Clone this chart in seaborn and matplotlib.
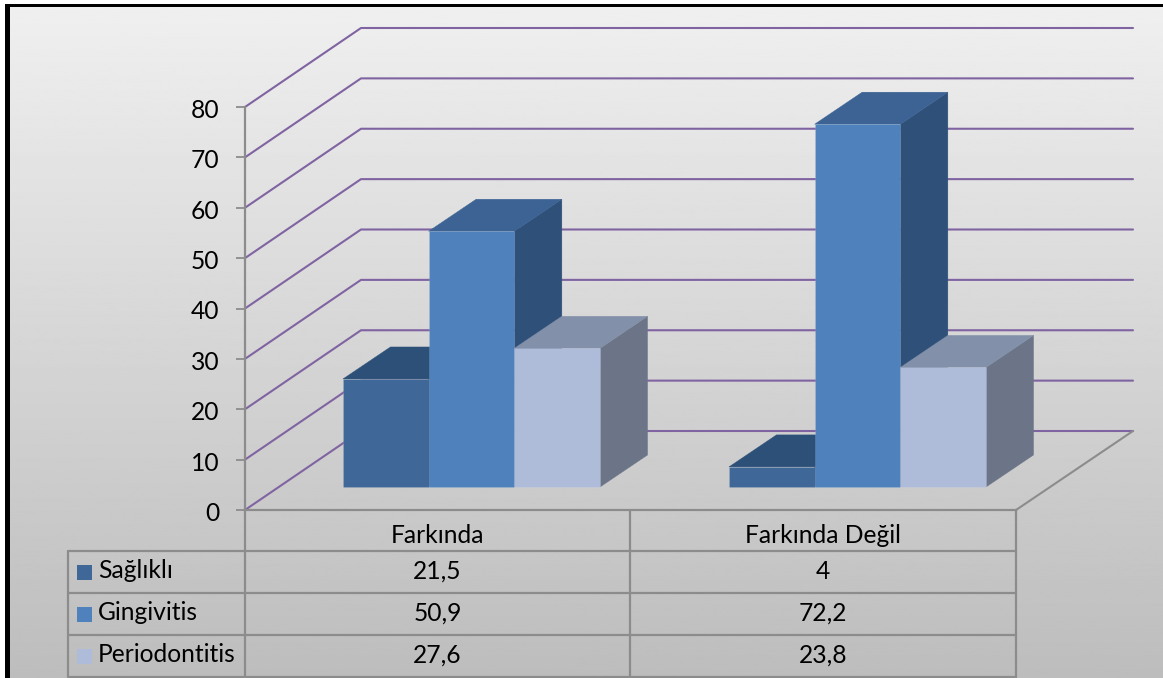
import numpy as np
import pandas as pd
import seaborn as sns
import matplotlib
matplotlib.use('Agg')
import matplotlib.pyplot as plt
from matplotlib.patches import Rectangle
from matplotlib.transforms import ScaledTranslation

categories = ['Farkında', 'Farkında Değil']
groups = ['Sağlıklı', 'Gingivitis', 'Periodontitis']
saglikli = [21.5, 4]
gingivitis = [50.9, 72.2]
periodontitis = [27.6, 23.8]
table_labels = [['21,5', '4'], ['50,9', '72,2'], ['27,6', '23,8']]
y_ticks = [0, 10, 20, 30, 40, 50, 60, 70, 80]

front_colors = ['#3f6797', '#4f81bd', '#aebcd9']
top_colors = ['#2d5078', '#3c6394', '#8290a9']
side_colors = ['#2d5078', '#2f5079', '#6b7587']
purple = '#8064a2'
grey = '#8c8c8c'

W, H = 1163, 678
FONT = 'Lato'
FS = 17.7

sns.set_theme(style='white')
plt.rcParams['font.family'] = [FONT, 'DejaVu Sans']


def px_axes(left, top, right, bottom, **kw):
    return fig.add_axes([left / W, 1 - bottom / H, (right - left) / W, (bottom - top) / H], **kw)


fig = plt.figure(figsize=(W / 100, H / 100), dpi=100, facecolor='white')

"Gradient background"
ax_bg = px_axes(0, 0, W, H, zorder=0)
grad = np.linspace(0.94, 0.74, 256).reshape(-1, 1)
ax_bg.imshow(grad, cmap='gray', vmin=0, vmax=1, aspect='auto', extent=(0, W, H, 0))
ax_bg.axis('off')

"Walls, gridlines and value axis"
ax_wall = px_axes(245, 107, 1016, 510, zorder=1)
ax_wall.patch.set_alpha(0)
ax_wall.set(xlim=(245, 1016), ylim=(0, 80), yticks=y_ticks, xticks=[])
ax_wall.grid(False)
wall_dy = 79 / (403 / 80)
for t in y_ticks:
    ax_wall.plot([245, 361, 1133], [t, t + wall_dy, t + wall_dy], color=purple, lw=1.5, clip_on=False)
ax_wall.plot([1016, 1133], [0, wall_dy], color=grey, lw=1.5, clip_on=False)
for s in ['top', 'right']:
    ax_wall.spines[s].set_visible(False)
for s in ['left', 'bottom']:
    ax_wall.spines[s].set_color(grey)
    ax_wall.spines[s].set_linewidth(1.6)
ax_wall.tick_params(axis='y', left=True, length=6.5, width=1.3, color=grey, pad=12,
                    labelsize=FS, labelcolor='black')
for label in ax_wall.get_yticklabels():
    label.set_transform(label.get_transform() + ScaledTranslation(0, -1.5 / 100, fig.dpi_scale_trans))

"Bars"
df = pd.DataFrame({'durum': categories * 3,
                   'grup': np.repeat(groups, 2),
                   'deger': saglikli + gingivitis + periodontitis})
ax = px_axes(278.5, 85, 1050.5, 487, zorder=2)
ax.patch.set_alpha(0)
sns.barplot(data=df, x='durum', y='deger', hue='grup', hue_order=groups, order=categories,
            palette=front_colors, saturation=1, width=0.666, gap=0, legend=False, ax=ax)
ax.set(xlim=(-0.5, 1.5), ylim=(0, 80), xlabel='', ylabel='', xticks=[], yticks=[])
sns.despine(ax=ax, left=True, bottom=True)

"Fake the depth of each bar"
dx = 47.5 / 386
dy = 32 / (402 / 80)
bars = [p for p in ax.patches if p.get_height() > 0]
bars = sorted(enumerate(bars), key=lambda b: b[1].get_x())
for n, (i, bar) in enumerate(bars):
    g = i // 2
    x0, x1 = bar.get_x(), bar.get_x() + bar.get_width()
    h = bar.get_height()
    z = 3 + n
    ax.fill([x1, x1 + dx, x1 + dx, x1], [0, dy, h + dy, h], color=side_colors[g], lw=0.3, zorder=z, clip_on=False)
    ax.fill([x0, x0 + dx, x1 + dx, x1], [h, h + dy, h + dy, h], color=top_colors[g], lw=0.3, zorder=z, clip_on=False)
    bar.set_zorder(z + 0.5)
    bar.set_edgecolor('#ffffff18')
    bar.set_linewidth(0.8)
    bar.set_clip_on(False)

"Data table and frame, in pixels"
ov = px_axes(0, 0, W, H, zorder=5)
ov.patch.set_alpha(0)
ov.set(xlim=(0, W), ylim=(H, 0))
ov.axis('off')
rows = [551, 593, 635, 677]
for y in rows:
    ov.plot([68, 1016], [y, y], color=grey, lw=1.6)
ov.plot([68, 68], [551, 677], color=grey, lw=1.6)
for x in [245, 630, 1016]:
    ov.plot([x, x], [510, 677], color=grey, lw=1.6)
centers = [437.5, 823]
for c, name in zip(centers, categories):
    ov.text(c, 535.5, name, ha='center', va='center', fontsize=FS, color='black')
for r, g in enumerate(groups):
    yc = (rows[r] + rows[r + 1]) / 2
    ov.add_patch(Rectangle((77, yc - 7.5), 15, 15, color=front_colors[r], lw=0))
    ov.text(98, yc - 1, g, ha='left', va='center', fontsize=FS, color='black')
    for c, lab in zip(centers, table_labels[r]):
        ov.text(c, yc - 0.5, lab, ha='center', va='center', fontsize=FS, color='black')

ov.add_patch(Rectangle((0, 0), W, 4, color='white', lw=0))
ov.add_patch(Rectangle((0, 0), 5, H, color='white', lw=0))
ov.add_patch(Rectangle((5, 4), W, 3, color='black', lw=0))
ov.add_patch(Rectangle((5, 4), 5, H, color='black', lw=0))

fig.savefig('out.png', dpi=100)
